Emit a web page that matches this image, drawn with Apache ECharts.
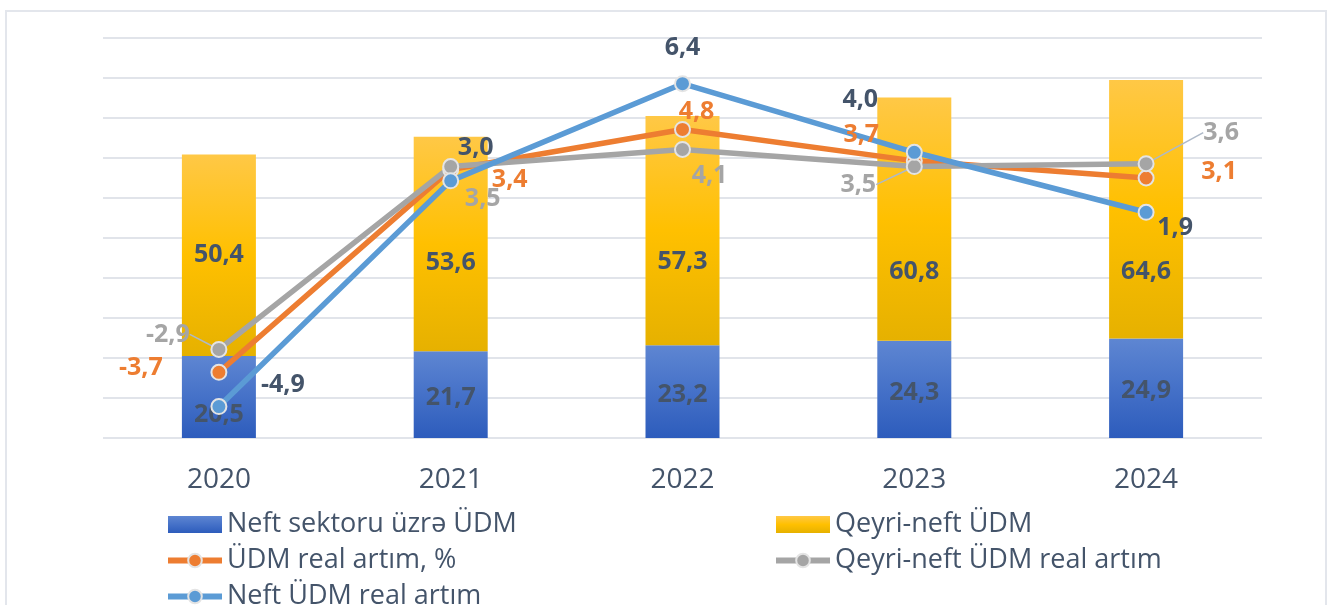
<!DOCTYPE html>
<html><head><meta charset="utf-8">
<script src="https://cdn.jsdelivr.net/npm/echarts@6/dist/echarts.min.js"></script>
<style>html,body{margin:0;padding:0;background:#fff}#c{width:1327px;height:605px}</style>
</head><body><div id="c"></div>
<script>
const years = ['2020', '2021', '2022', '2023', '2024'];
const neftSektoru = [20.5, 21.7, 23.2, 24.3, 24.9];
const qeyriNeft = [50.4, 53.6, 57.3, 60.8, 64.6];
const udmReal = [-3.7, 3.4, 4.8, 3.7, 3.1];
const qeyriNeftReal = [-2.9, 3.5, 4.1, 3.5, 3.6];
const neftReal = [-4.9, 3.0, 6.4, 4.0, 1.9];

const names = ['Neft sektoru üzrə ÜDM', 'Qeyri-neft ÜDM', 'ÜDM real artım, %', 'Qeyri-neft ÜDM real artım', 'Neft ÜDM real artım'];

// label placement (style only)
const offBlueBar = [[0, 18], [0, 3], [0, 3], [0, 3], [0, 3]];
const offYellowBar = [[0, 0], [0, 19], [0, 31], [0, 53], [0, 63]];
const offOrange = [[-78, -4], [59, 10], [14, -18], [-53, -26], [73, -6]];
const offGray = [[-51, -15], [32, 32], [27, 26], [-56, 18], [75, -31]];
const offBlue = [[64, -22], [25, -33], [0, -36], [-54, -52], [29, 16]];
const grayLeader = [true, false, false, true, true];

const fmt = v => Number(v).toFixed(1).replace('.', ',');
const FONT = 'Open Sans';
const DARK = '#44546A';
const LBL = 25;

function grad(stops) {
  return new echarts.graphic.LinearGradient(0, 0, 0, 1, stops.map((c, i) => ({offset: i / (stops.length - 1), color: c})));
}

function barData(vals, offs) {
  return vals.map((v, i) => ({value: v, label: {offset: offs[i]}}));
}

function lineSeries(name, vals, color, labelColor, offs, leaders) {
  return {
    name, type: 'line', yAxisIndex: 1, data: vals.map((v, i) => ({
      value: v,
      labelLine: {show: leaders ? leaders[i] : false}
    })),
    symbol: 'circle', symbolSize: 15,
    lineStyle: {color, width: 5.5},
    itemStyle: {color, borderColor: '#E4E4E4', borderWidth: 2},
    label: {
      show: true, position: 'inside', formatter: p => fmt(p.value),
      color: labelColor, fontFamily: FONT, fontWeight: 'bold', fontSize: LBL
    },
    labelLine: {lineStyle: {color: '#AEB9C8', width: 1.5}},
    labelLayout: p => ({dx: offs[p.dataIndex][0], dy: offs[p.dataIndex][1]}),
    emphasis: {disabled: true}
  };
}

const legendCommon = {
  orient: 'vertical', top: 510, height: 120, padding: 0,
  itemWidth: 54, itemHeight: 17, itemGap: 7,
  lineStyle: {width: 6},
  textStyle: {fontSize: 27, color: DARK, fontFamily: FONT, lineHeight: 29}
};

const chart = echarts.init(document.getElementById('c'));
chart.setOption({
  animation: false,
  backgroundColor: '#fff',
  graphic: [{
    type: 'rect', silent: true, z: -10,
    shape: {x: 6, y: 11, width: 1320, height: 620},
    style: {fill: 'none', stroke: '#E3E6EC', lineWidth: 2}
  }],
  grid: {left: 103, right: 65, top: 38, bottom: 167},
  legend: [Object.assign({}, legendCommon, {
    left: 165,
    data: [{name: names[0], icon: 'rect'}, names[2], names[4]]
  }), Object.assign({}, legendCommon, {
    left: 773,
    data: [{name: names[1], icon: 'rect'}, names[3]]
  })],
  xAxis: {
    type: 'category', data: years,
    axisLine: {show: false}, axisTick: {show: false},
    axisLabel: {fontSize: 28, color: DARK, fontFamily: FONT, margin: 28}
  },
  yAxis: [{
    type: 'value', min: 0, max: 100, interval: 10,
    axisLabel: {show: false}, axisLine: {show: false}, axisTick: {show: false},
    splitLine: {lineStyle: {color: '#E1E4EA', width: 2}}
  }, {
    type: 'value', min: -6, max: 8, interval: 2,
    axisLabel: {show: false}, axisLine: {show: false}, axisTick: {show: false},
    splitLine: {show: false}
  }],
  series: [{
    name: names[0], type: 'bar', stack: 'gdp', barWidth: 74,
    data: barData(neftSektoru, offBlueBar),
    itemStyle: {color: grad(['#5E86D2', '#4571C8', '#2D5CBC'])},
    label: {show: true, position: 'inside', formatter: p => fmt(p.value), color: DARK, fontFamily: FONT, fontWeight: 'bold', fontSize: LBL},
    emphasis: {disabled: true}
  }, {
    name: names[1], type: 'bar', stack: 'gdp', barWidth: 74,
    data: barData(qeyriNeft, offYellowBar),
    itemStyle: {color: grad(['#FFC846', '#FFC000', '#E6B100'])},
    label: {show: true, position: 'inside', formatter: p => fmt(p.value), color: DARK, fontFamily: FONT, fontWeight: 'bold', fontSize: LBL},
    emphasis: {disabled: true}
  },
  lineSeries(names[2], udmReal, '#ED7D31', '#ED7D31', offOrange, null),
  lineSeries(names[3], qeyriNeftReal, '#A5A5A5', '#A5A5A5', offGray, grayLeader),
  lineSeries(names[4], neftReal, '#5B9BD5', DARK, offBlue, null)
  ]
});
</script>
</body></html>
